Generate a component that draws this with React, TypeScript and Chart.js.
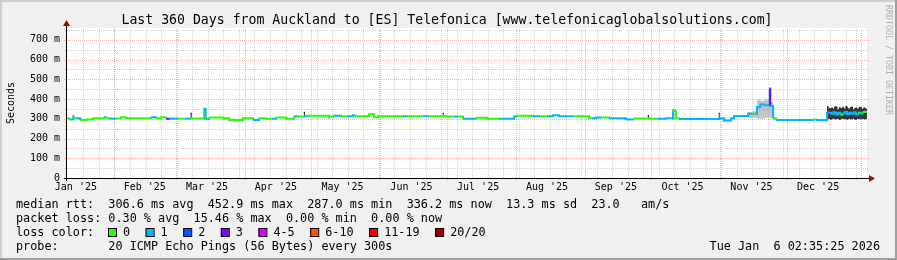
import React, { useEffect, useRef } from "react";
import { Chart, registerables } from "chart.js";

Chart.register(...registerables);

// ---------- axes / labels ----------
const X_MIN = 10; // day index (0 = 1 Jan 2025)
const X_MAX = 370; // 6 Jan 2026
const MONTH_STARTS = [31, 59, 90, 120, 151, 181, 212, 243, 273, 304, 334, 365];
const MONTH_LABEL_DAYS = [14, 45, 73, 104, 134, 165, 195, 226, 257, 287, 318, 348];
const MONTH_LABELS = ["Jan '25", "Feb '25", "Mar '25", "Apr '25", "May '25", "Jun '25", "Jul '25", "Aug '25", "Sep '25", "Oct '25", "Nov '25", "Dec '25"];
const Y_TICKS = [0, 100, 200, 300, 400, 500, 600, 700];
const Y_MAX = 760;
const WEEK_GRID_START = 17.35;

// ---------- median rtt (ms) with loss class ----------
const MEDIAN_DAYS = [10, 11, 12.7, 13.3, 14, 16, 19, 21.7, 26.6, 27.6, 29, 32, 34.3, 36.6, 47.8, 50, 52.3, 54.6, 56, 60, 63, 65.5, 71.7, 72.4, 73.9, 80.2, 82.9, 89.2, 93.7, 96.4, 99.6, 102, 104, 108.6, 112.2, 114, 116.7, 118, 127.9, 129.7, 133.3, 136, 138.7, 139.4, 145.9, 148.2, 150, 161.2, 163.5, 170, 173, 180.6, 184, 186, 188.2, 194, 199, 204.4, 211.2, 212, 219.7, 223, 226, 228.7, 231.4, 237.7, 244.9, 246, 248, 251, 253.9, 261.6, 264.7, 272.8, 276, 279.6, 282.7, 284, 285.4, 303.4, 305.7, 308.8, 310.2, 316.5, 318.5, 319.5, 320.5, 322, 324, 326.2, 326.45, 327.7, 329, 346, 347, 352, 352.6, 354, 355, 356, 357, 358, 359, 360, 361, 362, 363, 364, 365, 366, 367, 368, 369, 370];
const MEDIAN_MS = [303, 296, 308, 303, 303, 294, 296, 303, 308, 303, 301, 301, 308, 303, 308, 303, 308, 300, 301, 301, 301, 301, 350, 300, 307, 303, 294, 303, 294, 303, 300, 300, 306, 300, 313, 311, 313, 316, 311, 316, 313, 313, 318, 313, 323, 308, 313, 313, 313, 313, 313, 311, 311, 311, 300, 305, 300, 300, 311, 316, 313, 313, 313, 318, 313, 313, 303, 303, 306, 306, 303, 296, 301, 300, 300, 303, 340, 303, 299, 303, 291, 303, 314, 325, 325, 325, 360, 372, 368, 452, 365, 303, 294, 296, 294, 336, 330, 325, 333, 322, 330, 320, 328, 335, 323, 330, 326, 333, 322, 330, 327, 334, 336, 336];
const MEDIAN_LOSS = [0, 1, 0, 0, 1, 0, 0, 0, 1, 0, 1, 0, 0, 0, 1, 0, 0, 3, 1, 0, 1, 0, 1, 1, 0, 0, 0, 0, 1, 0, 0, 1, 0, 0, 1, 0, 1, 0, 0, 1, 0, 1, 1, 0, 0, 0, 0, 1, 0, 1, 0, 0, 1, 0, 1, 0, 0, 1, 1, 0, 1, 0, 1, 1, 1, 0, 0, 1, 1, 0, 1, 1, 0, 0, 1, 1, 0, 0, 1, 1, 1, 1, 1, 1, 0, 1, 1, 1, 1, 3, 1, 0, 1, 0, 1, 4, 1, 1, 1, 1, 1, 0, 1, 1, 1, 1, 1, 1, 1, 0, 1, 0, 0, 0];

// ---------- smoke (ping spread, ms); null = gap ----------
const DARK_DAYS = [12.5, 13.1, 13.2, 65.5, 66.2, 66.3, 71.5, 72.2, 72.3, 116.5, 117.1, 117.2, 127.7, 128.3, 128.4, 179, 179.6, 179.7, 271.3, 271.9, 272, 282.5, 283.3, 283.4, 303.2, 303.8, 303.9, 326.1, 326.6, 326.7,
  352, 352.5, 353, 353.5, 354, 354.5, 355, 355.5, 356, 356.5, 357, 357.5, 358, 358.5, 359, 359.5, 360, 360.5, 361, 361.5, 362, 362.5, 363, 363.5, 364, 364.5, 365, 365.5, 366, 366.5, 367, 367.5, 368, 368.5, 369, 369.5, 370];
const DARK_LO = [300, 300, null, 300, 300, null, 300, 300, null, 311, 311, null, 305, 305, null, 311, 311, null, 300, 300, null, 300, 300, null, 300, 300, null, 365, 365, null,
  300, 303, 302, 298, 300, 305, 303, 299, 300, 304, 302, 297, 300, 303, 304, 300, 300, 302, 298, 303, 303, 299, 300, 305, 302, 298, 299, 303, 303, 300, 300, 304, 302, 299, 300, 302, 300];
const DARK_HI = [315, 315, null, 328, 328, null, 353, 353, null, 333, 333, null, 316, 316, null, 328, 328, null, 316, 316, null, 345, 345, null, 328, 328, null, 455, 455, null,
  362, 348, 352, 340, 355, 346, 350, 361, 360, 343, 345, 356, 352, 341, 358, 349, 348, 362, 355, 344, 350, 357, 360, 342, 346, 353, 354, 340, 350, 358, 357, 345, 348, 355, 352, 346, 350];

const LIGHT_DAYS = [305, 306.5, 306.6, 316.5, 318.5, 320.5, 322, 324, 326.7, 327.7, 328.4];
const LIGHT_LO = [285, 285, null, 305, 305, 300, 300, 305, 305, 295, 295];
const LIGHT_HI = [300, 300, null, 335, 338, 396, 392, 398, 385, 360, 360];

// ---------- legend ----------
const LOSS_LABELS = ["0", "1", "2", "3", "4-5", "6-10", "11-19", "20/20"];
const LOSS_COLORS = ["#26ff00", "#00b8ff", "#0059ff", "#7e00ff", "#dd00ff", "#ff5500", "#ff0000", "#a10000"];
const TITLE = "Last 360 Days from Auckland to [ES] Telefonica [www.telefonicaglobalsolutions.com]";
const LINE_RTT = "median rtt:  306.6 ms avg  452.9 ms max  287.0 ms min  336.2 ms now  13.3 ms sd  23.0   am/s";
const LINE_LOSS = "packet loss: 0.30 % avg  15.46 % max  0.00 % min  0.00 % now";
const LINE_COLOR = "loss color:";
const LINE_PROBE = "probe:       20 ICMP Echo Pings (56 Bytes) every 300s";
const STAMP = "Tue Jan  6 02:35:25 2026";
const SIDE = "RRDTOOL / TOBI OETIKER";

const MONO = '"DejaVu Sans Mono", monospace';

const decor = {
  id: "rrdDecor",
  beforeDraw(chart: any) {
    const { ctx, chartArea: a, width: W, height: H } = chart;
    ctx.save();
    ctx.fillStyle = "#f0f0f0";
    ctx.fillRect(0, 0, W, H);
    ctx.fillStyle = "#cfcfcf";
    ctx.fillRect(0, 0, W, 2);
    ctx.fillRect(0, 0, 2, H);
    ctx.fillStyle = "#9e9e9e";
    ctx.fillRect(0, H - 2, W, 2);
    ctx.fillRect(W - 2, 0, 2, H);
    ctx.fillStyle = "#ffffff";
    ctx.fillRect(a.left, a.top, a.right - a.left, a.bottom - a.top);
    ctx.restore();
  },
  beforeDatasetsDraw(chart: any) {
    const { ctx, chartArea: a, scales } = chart;
    const xs = scales.x, ys = scales.y;
    ctx.save();
    ctx.lineWidth = 1;
    ctx.setLineDash([1, 1]);
    // minor
    ctx.strokeStyle = "rgba(140,140,140,0.38)";
    for (let d = WEEK_GRID_START; d < X_MAX; d += 7) {
      const px = Math.round(xs.getPixelForValue(d)) + 0.5;
      ctx.beginPath(); ctx.moveTo(px, a.bottom); ctx.lineTo(px, a.top); ctx.stroke();
    }
    for (let v = 50; v < Y_MAX; v += 100) {
      const py = Math.round(ys.getPixelForValue(v)) + 0.5;
      ctx.beginPath(); ctx.moveTo(a.left - 2, py); ctx.lineTo(a.right + 2, py); ctx.stroke();
    }
    // major
    ctx.strokeStyle = "rgba(255,40,40,0.36)";
    for (const d of MONTH_STARTS) {
      const px = Math.round(xs.getPixelForValue(d)) + 0.5;
      ctx.beginPath(); ctx.moveTo(px, a.bottom + 2); ctx.lineTo(px, a.top); ctx.stroke();
    }
    for (const v of Y_TICKS) {
      if (v === 0) continue;
      const py = Math.round(ys.getPixelForValue(v)) + 0.5;
      ctx.beginPath(); ctx.moveTo(a.left - 3, py); ctx.lineTo(a.right + 2, py); ctx.stroke();
    }
    ctx.restore();
  },
  afterDatasetsDraw(chart: any) {
    const { ctx, chartArea: a } = chart;
    ctx.save();
    ctx.strokeStyle = "#000";
    ctx.lineWidth = 1;
    ctx.beginPath();
    ctx.moveTo(a.left - 3, a.bottom + 0.5); ctx.lineTo(a.right + 2, a.bottom + 0.5);
    ctx.moveTo(a.left - 0.5, a.bottom + 3); ctx.lineTo(a.left - 0.5, a.top - 3);
    ctx.stroke();
    ctx.fillStyle = "#8b1010";
    ctx.beginPath();
    ctx.moveTo(a.right + 8, a.bottom + 0.5);
    ctx.lineTo(a.right + 2, a.bottom - 3);
    ctx.lineTo(a.right + 2, a.bottom + 4);
    ctx.closePath(); ctx.fill();
    ctx.beginPath();
    ctx.moveTo(a.left - 0.5, a.top - 8);
    ctx.lineTo(a.left - 4, a.top - 2);
    ctx.lineTo(a.left + 3, a.top - 2);
    ctx.closePath(); ctx.fill();
    ctx.restore();
  },
  afterDraw(chart: any) {
    const { ctx, width: W } = chart;
    ctx.save();
    ctx.fillStyle = "#000";
    ctx.textBaseline = "alphabetic";
    ctx.textAlign = "center";
    ctx.font = `13.2px ${MONO}`;
    ctx.fillText(TITLE, 447, 24);

    ctx.font = `10px ${MONO}`;
    ctx.save();
    ctx.translate(13.5, 103);
    ctx.rotate(-Math.PI / 2);
    ctx.textBaseline = "alphabetic";
    ctx.fillText("Seconds", 0, 0);
    ctx.restore();

    ctx.save();
    ctx.fillStyle = "#b0b0b0";
    ctx.font = `8.3px ${MONO}`;
    ctx.translate(886, 5);
    ctx.rotate(Math.PI / 2);
    ctx.textAlign = "left";
    ctx.textBaseline = "alphabetic";
    ctx.fillText(SIDE, 0, 0);
    ctx.restore();

    ctx.textAlign = "left";
    ctx.font = `11.8px ${MONO}`;
    ctx.fillText(LINE_RTT, 16, 208);
    ctx.fillText(LINE_LOSS, 16, 222);
    ctx.fillText(LINE_COLOR, 16, 236);
    ctx.fillText(LINE_PROBE, 16, 250);
    ctx.textAlign = "right";
    ctx.fillText(STAMP, W - 17, 250);
    ctx.textAlign = "left";

    let bx = 108;
    LOSS_LABELS.forEach((lab, i) => {
      ctx.fillStyle = LOSS_COLORS[i];
      ctx.fillRect(bx, 228, 8, 8);
      ctx.strokeStyle = "#000";
      ctx.lineWidth = 1;
      ctx.strokeRect(bx + 0.5, 228.5, 8, 8);
      ctx.fillStyle = "#000";
      const tx = bx + 15;
      ctx.fillText(lab, tx, 236);
      bx = tx + ctx.measureText(lab).width + 15.5;
    });
    ctx.restore();
  },
};

export default function App() {
  const ref = useRef<HTMLCanvasElement | null>(null);
  useEffect(() => {
    document.body.style.margin = "0";
    const el = ref.current;
    if (!el) return;
    const median = MEDIAN_DAYS.map((d, i) => ({ x: d, y: MEDIAN_MS[i] }));
    const darkLo = DARK_DAYS.map((d, i) => ({ x: d, y: DARK_LO[i] }));
    const darkHi = DARK_DAYS.map((d, i) => ({ x: d, y: DARK_HI[i] }));
    const lightLo = LIGHT_DAYS.map((d, i) => ({ x: d, y: LIGHT_LO[i] }));
    const lightHi = LIGHT_DAYS.map((d, i) => ({ x: d, y: LIGHT_HI[i] }));
    const font = { family: MONO, size: 10 };
    const chart = new Chart(el, {
      type: "line",
      data: {
        datasets: [
          {
            label: "median",
            data: median,
            order: 0,
            stepped: true,
            borderWidth: 2,
            borderColor: LOSS_COLORS[0],
            pointRadius: 0,
            fill: false,
            segment: {
              borderColor: (c: any) => LOSS_COLORS[MEDIAN_LOSS[c.p0DataIndex]],
            },
          },
          {
            label: "darkLo",
            data: darkLo,
            order: 2,
            stepped: true,
            borderWidth: 1,
            borderColor: "rgba(25,25,25,0.9)",
            pointRadius: 0,
            fill: false,
          },
          {
            label: "darkHi",
            data: darkHi,
            order: 2,
            stepped: true,
            borderWidth: 1,
            borderColor: "rgba(25,25,25,0.9)",
            backgroundColor: "rgba(25,25,25,0.85)",
            pointRadius: 0,
            fill: "-1",
          },
          {
            label: "lightLo",
            data: lightLo,
            order: 3,
            stepped: true,
            borderWidth: 1,
            borderColor: "rgba(0,0,0,0)",
            pointRadius: 0,
            fill: false,
          },
          {
            label: "lightHi",
            data: lightHi,
            order: 3,
            stepped: true,
            borderWidth: 1,
            borderColor: "rgba(0,0,0,0)",
            backgroundColor: "rgba(150,150,150,0.55)",
            pointRadius: 0,
            fill: "-1",
          },
        ],
      },
      options: {
        responsive: false,
        animation: false,
        events: [],
        spanGaps: false,
        layout: { padding: { left: 0, right: 30, top: 28, bottom: 0 } },
        plugins: { legend: { display: false }, tooltip: { enabled: false }, title: { display: false } },
        scales: {
          x: {
            type: "linear",
            min: X_MIN,
            max: X_MAX,
            grid: { display: false, drawTicks: false },
            border: { display: false },
            afterBuildTicks: (s: any) => {
              s.ticks = MONTH_LABEL_DAYS.map((v) => ({ value: v }));
            },
            afterFit: (s: any) => {
              s.height = 82;
            },
            ticks: {
              autoSkip: false,
              maxRotation: 0,
              padding: 3,
              color: "#000",
              font,
              callback: (v: any) => {
                const i = MONTH_LABEL_DAYS.indexOf(Number(v));
                return i >= 0 ? MONTH_LABELS[i] : "";
              },
            },
          },
          y: {
            type: "linear",
            min: 0,
            max: Y_MAX,
            grid: { display: false, drawTicks: false },
            border: { display: false },
            afterBuildTicks: (s: any) => {
              s.ticks = Y_TICKS.map((v) => ({ value: v }));
            },
            afterFit: (s: any) => {
              s.width = 67;
            },
            ticks: {
              padding: 7,
              color: "#000",
              font,
              callback: (v: any) => (Number(v) === 0 ? "0" : `${v} m`),
            },
          },
        },
      },
      plugins: [decor],
    } as any);
    return () => chart.destroy();
  }, []);
  return (
    <div style={{ position: "fixed", left: 0, top: 0, width: 897, height: 260 }}>
      <canvas ref={ref} width={897} height={260} style={{ width: 897, height: 260, display: "block" }} />
    </div>
  );
}
